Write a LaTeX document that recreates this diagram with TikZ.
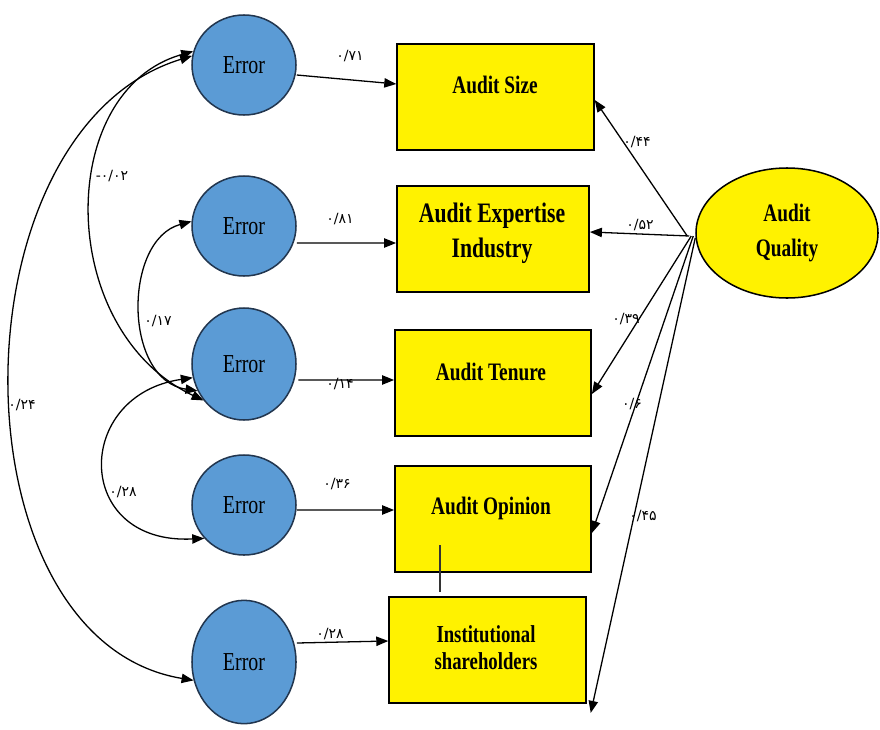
\documentclass[tikz,border=0pt]{standalone}
\usepackage{fontspec}
\usepackage{graphicx}
\setmainfont{Liberation Serif}
\newfontfamily\fa{DejaVu Sans}
\usetikzlibrary{arrows.meta,shapes.geometric,calc}
\definecolor{errblue}{HTML}{5B9BD5}
\definecolor{errline}{HTML}{22364F}
\newcommand\vst[1]{\scalebox{1}[1.3]{#1}}
\begin{document}
\begin{tikzpicture}[x=0.03cm,y=-0.03cm,
  err/.style={ellipse, draw=errline, line width=1.3pt, fill=errblue, minimum width=3.12cm, minimum height=3cm, inner sep=0pt, font=\fontsize{17}{20}\selectfont},
  box/.style={draw=black, line width=1.5pt, fill=yellow, minimum width=5.9cm, minimum height=3.18cm, inner sep=0pt},
  btxt/.style={font=\fontsize{16.5}{30}\selectfont\bfseries, align=center, inner sep=0pt},
  coef/.style={font=\fa\fontsize{12}{14}\selectfont, inner sep=1pt},
  arr/.style={line width=1.1pt, -{Triangle[length=0.36cm,width=0.28cm]}},
  darr/.style={line width=1.1pt, {Triangle[length=0.36cm,width=0.28cm]}-{Triangle[length=0.36cm,width=0.28cm]}}]
\useasboundingbox (0,0) rectangle (880,729);
% error ellipses
\node[err] (E1) at (244,65) {\vst{Error}};
\node[err] (E2) at (244,226) {\vst{Error}};
\node[err, minimum height=3.36cm] (E3) at (244,364) {\vst{Error}};
\node[err] (E4) at (244,505) {\vst{Error}};
\node[err, minimum height=3.7cm] (E5) at (244,662) {\vst{Error}};
% boxes
\node[box] (B1) at (495.5,97) {};
\node[box, minimum width=5.76cm] (B2) at (493,239) {};
\node[box, minimum width=5.88cm] (B3) at (493,383) {};
\node[box, minimum width=5.88cm] (B4) at (493,519) {};
\node[box] (B5) at (487.5,650) {};
\node[btxt] (T1) at (495,85) {\vst{Audit Size}};
\node[btxt, font=\fontsize{18.5}{30}\selectfont\bfseries] (T2) at (492,233) {\vst{Audit Expertise}\\\vst{Industry}};
\node[btxt] (T3) at (491,372) {\vst{Audit Tenure}};
\node[btxt] (T4) at (491,508) {\vst{Audit Opinion}};
\node[btxt, font=\fontsize{16}{23}\selectfont\bfseries] (T5) at (486,648) {\vst{Institutional}\\\vst{shareholders}};
% audit quality
\node[ellipse, draw=black, line width=1.3pt, fill=yellow, minimum width=5.46cm, minimum height=3.9cm, inner sep=0pt, align=center, font=\fontsize{16.5}{30}\selectfont\bfseries] (AQ) at (787,233) {\vst{Audit}\\\vst{Quality}};
% error -> box arrows
\draw[arr] ([yshift=-0.3cm]E1.east) -- ([yshift=0.39cm]B1.west);
\draw[arr] ([yshift=-0.51cm]E2.east) -- ([yshift=-0.12cm]B2.west);
\draw[arr] ([yshift=-0.48cm,xshift=0.05cm]E3.east) -- ([yshift=0.09cm]B3.west);
\draw[arr] ([yshift=-0.15cm]E4.east) -- ([yshift=0.27cm]B4.west);
\draw[arr] ([yshift=0.57cm]E5.east) -- ([yshift=0.27cm]B5.west);
\node[coef] (c1) at (350,56) {۰/۷۱};
\node[coef] (c2) at (340,219) {۰/۸۱};
\node[coef] (c3) at (340,384) {۰/۱۴};
\node[coef] (c4) at (337,484) {۰/۳۶};
\node[coef] (c5) at (330,634) {۰/۲۸};
% quality -> boxes
\draw[arr] ([xshift=-0.24cm,yshift=-0.09cm]AQ.west) -- ([yshift=-0.09cm]B1.east);
\draw[arr] ([xshift=-0.18cm,yshift=-0.09cm]AQ.west) -- ([yshift=0.21cm]B2.east);
\draw[arr] ([xshift=-0.12cm,yshift=-0.09cm]AQ.west) -- ([yshift=-0.33cm]B3.east);
\draw[arr] ([xshift=-0.06cm,yshift=-0.09cm]AQ.west) -- ([yshift=-0.42cm]B4.east);
\draw[arr] ([xshift=0cm,yshift=-0.15cm]AQ.west) -- ([xshift=0.12cm,yshift=-0.27cm]B5.south east);
\node[coef] (c6) at (637,142) {۰/۴۴};
\node[coef] (c7) at (640,225) {۰/۵۲};
\node[coef] (c8) at (626,319) {۰/۳۹};
\node[coef] (c9) at (632,404) {۰/۶};
\node[coef] (c10) at (643,516) {۰/۴۵};
% stray line
\coordinate (s1) at (440,545);
\coordinate (s2) at (440,592);
\draw[line width=1pt, black!80] (s1) -- (s2);
% correlations
\draw[darr] (E1.170) .. controls (-50,130) and (-50,640) .. (E5.200);
\draw[darr] (E1.165) .. controls (55,90) and (55,330) .. (E3.222);
\draw[darr] (E2.175) .. controls (123,240) and (123,380) .. (E3.210);
\draw[darr] (E3.195) .. controls (73,395) and (73,545) .. (E4.220);
\node[coef] (c11) at (112,176) {-۰/۰۲};
\node[coef] (c12) at (158,321) {۰/۱۷};
\node[coef] (c13) at (123,492) {۰/۲۸};
\node[coef] (c14) at (22,405) {۰/۲۴};
\end{tikzpicture}
\end{document}
